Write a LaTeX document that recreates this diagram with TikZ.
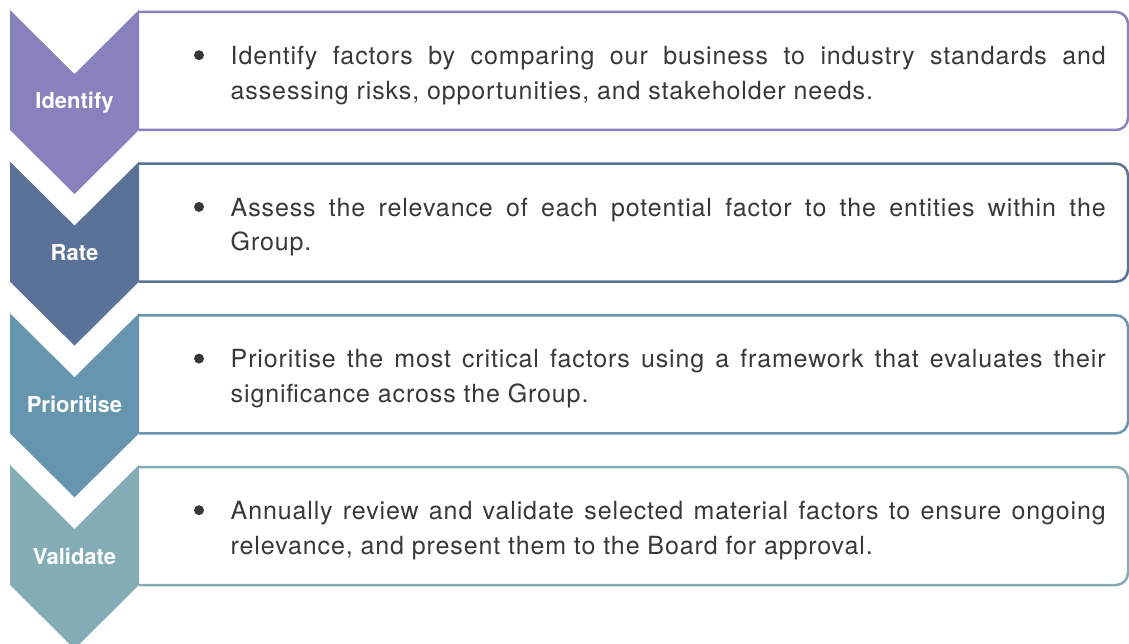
\documentclass[tikz,border=0pt]{standalone}
\usepackage{fontspec}
\newfontfamily\bodyfont{TeX Gyre Heros}[LetterSpace=3.5]
\newfontfamily\labelfont{TeX Gyre Heros}
\definecolor{cIdentify}{HTML}{8781BD}
\definecolor{cRate}{HTML}{5B7298}
\definecolor{cPrior}{HTML}{6696AF}
\definecolor{cValid}{HTML}{84ACB4}
\definecolor{bodygray}{HTML}{383838}
\tikzset{
  chevlabel/.style={anchor=base, inner sep=0pt, text=white,
    font=\labelfont\fontsize{22}{26}\selectfont\bfseries},
  stepframe/.style={line width=2.5pt, rounded corners=12pt},
  bodytext/.style={anchor=base west, inner sep=0pt, text=bodygray,
    font=\bodyfont\fontsize{25}{34.7}\selectfont},
  bulletdot/.style={circle, fill=bodygray, inner sep=0pt, minimum size=10pt}
}
\newcommand{\chevronpath}[2]{% #1 = top edge, #2 = colour
  \fill[#2] (10,#1) -- (74.5,#1+64) -- (139,#1) -- (139,#1+120)
    -- (74.5,#1+184) -- (10,#1+120) -- cycle;}
\newcommand{\stepbox}[2]{% #1 = top edge, #2 = colour
  \draw[stepframe, draw=#2] (139,#1) -- (1128,#1) -- (1128,#1+118) -- (139,#1+118);}
\newcommand{\steptext}[2]{\parbox[t]{875pt}{\hyphenpenalty=10000\exhyphenpenalty=10000 #1\linebreak #2}}
\begin{document}
\begin{tikzpicture}[x=1pt, y=-1pt]
  \useasboundingbox (0,0) rectangle (1129,644);
  \clip (0,0) rectangle (1129,644);

  % frames behind the chevrons
  \stepbox{12}{cIdentify}
  \stepbox{163.67}{cRate}
  \stepbox{315.33}{cPrior}
  \stepbox{467}{cValid}

  % chevrons
  \chevronpath{10}{cIdentify}
  \chevronpath{161.67}{cRate}
  \chevronpath{313.33}{cPrior}
  \chevronpath{465}{cValid}

  % chevron labels
  \node[chevlabel] (l1) at (74.5,109) {Identify};
  \node[chevlabel] (l2) at (74.5,260.67) {Rate};
  \node[chevlabel] (l3) at (74.5,412.33) {Prioritise};
  \node[chevlabel] (l4) at (74.5,564) {Validate};

  % bullets
  \node[bulletdot] (b1) at (199,55.2) {};
  \node[bulletdot] (b2) at (199,206.9) {};
  \node[bulletdot] (b3) at (199,358.6) {};
  \node[bulletdot] (b4) at (199,510.2) {};

  % step descriptions
  \node[bodytext] (t1) at (230.5,64.5)
    {\steptext{Identify factors by comparing our business to industry standards and}{assessing risks, opportunities, and stakeholder needs.}};
  \node[bodytext] (t2) at (230.5,216.2)
    {\steptext{Assess the relevance of each potential factor to the entities within the}{Group.}};
  \node[bodytext] (t3) at (230.5,367.8)
    {\steptext{Prioritise the most critical factors using a framework that evaluates their}{significance across the Group.}};
  \node[bodytext] (t4) at (230.5,519.5)
    {\steptext{Annually review and validate selected material factors to ensure ongoing}{relevance, and present them to the Board for approval.}};
\end{tikzpicture}
\end{document}
